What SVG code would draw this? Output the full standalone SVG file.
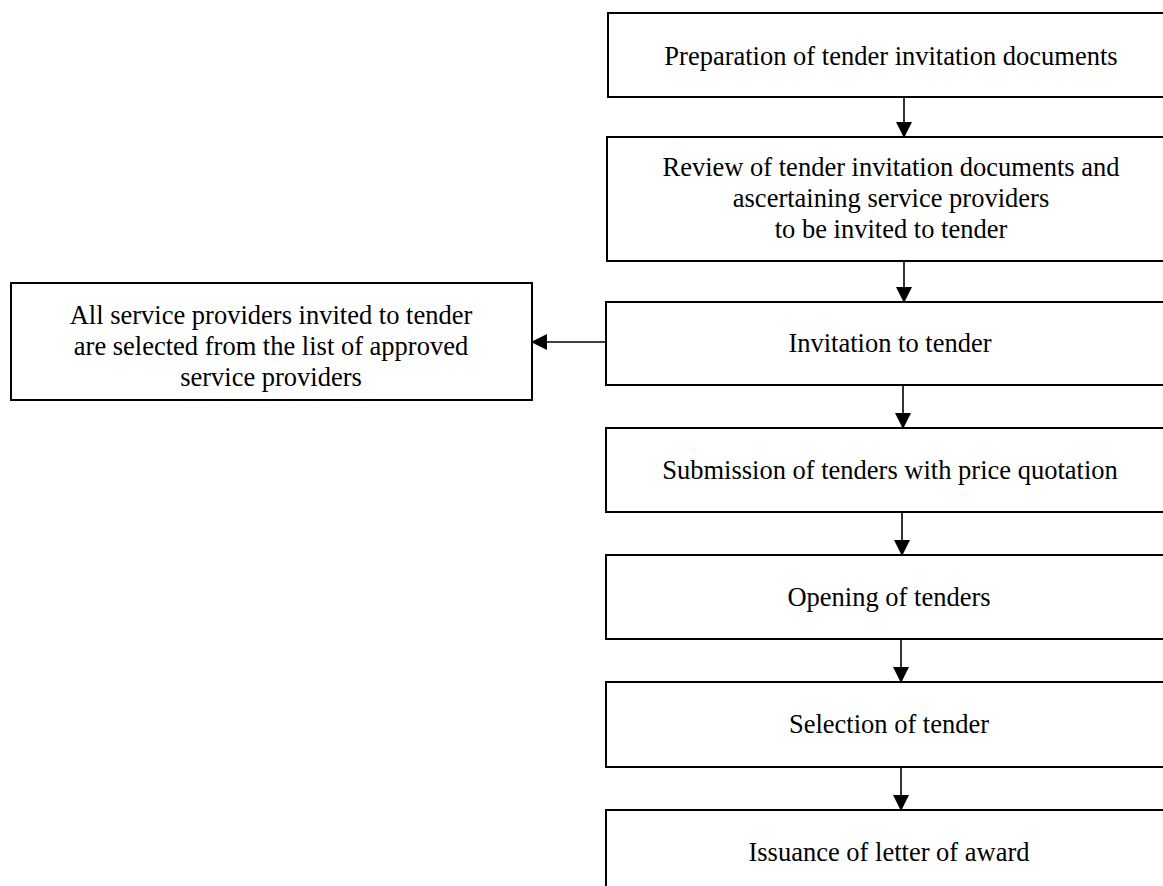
<svg xmlns="http://www.w3.org/2000/svg" width="1163" height="886" viewBox="0 0 1163 886">
<style>
.box{fill:#fff;stroke:#000;stroke-width:2}
.t{font-family:"Liberation Serif","Times New Roman",serif;font-size:26.5px;fill:#000;text-anchor:middle}
.c{stroke:#000;stroke-width:1.6;fill:none}
</style>
<defs>
<marker id="ah" markerUnits="userSpaceOnUse" markerWidth="16" markerHeight="16" viewBox="0 0 16 16" refX="15" refY="8" orient="auto">
<path d="M0,0 L16,8 L0,16 Z" fill="#000"/>
</marker>
</defs>
<rect width="1163" height="886" fill="#fff"/>
<g id="n1"><rect class="box" x="608" y="13" width="566" height="84"/><text class="t" x="891" y="65">Preparation of tender invitation documents</text></g>
<g id="n2"><rect class="box" x="607" y="137" width="566" height="124"/><text class="t" x="891" y="176">Review of tender invitation documents and</text><text class="t" x="891" y="207">ascertaining service providers</text><text class="t" x="891" y="238">to be invited to tender</text></g>
<g id="n3"><rect class="box" x="606" y="302" width="566" height="83"/><text class="t" x="890" y="352">Invitation to tender</text></g>
<g id="n8"><rect class="box" x="11" y="283" width="521" height="117"/><text class="t" x="271" y="324">All service providers invited to tender</text><text class="t" x="271" y="355">are selected from the list of approved</text><text class="t" x="271" y="386">service providers</text></g>
<g id="n4"><rect class="box" x="606" y="428" width="566" height="84"/><text class="t" x="890" y="479">Submission of tenders with price quotation</text></g>
<g id="n5"><rect class="box" x="606" y="555" width="566" height="84"/><text class="t" x="889" y="606">Opening of tenders</text></g>
<g id="n6"><rect class="box" x="606" y="682" width="566" height="85"/><text class="t" x="889" y="733">Selection of tender</text></g>
<g id="n7"><rect class="box" x="606" y="810" width="566" height="90"/><text class="t" x="889" y="861">Issuance of letter of award</text></g>
<g id="connectors">
<line class="c" x1="904" y1="97" x2="904" y2="137" marker-end="url(#ah)"/>
<line class="c" x1="904" y1="261" x2="904" y2="302" marker-end="url(#ah)"/>
<line class="c" x1="606" y1="342" x2="532" y2="342" marker-end="url(#ah)"/>
<line class="c" x1="903" y1="385" x2="903" y2="428" marker-end="url(#ah)"/>
<line class="c" x1="902" y1="512" x2="902" y2="555" marker-end="url(#ah)"/>
<line class="c" x1="901" y1="639" x2="901" y2="682" marker-end="url(#ah)"/>
<line class="c" x1="901" y1="767" x2="901" y2="810" marker-end="url(#ah)"/>
</g>
</svg>
